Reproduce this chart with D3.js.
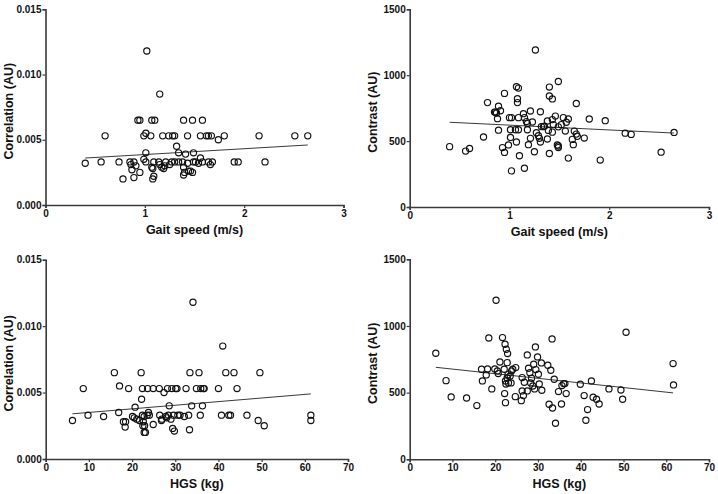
<!DOCTYPE html>
<html><head><meta charset="utf-8">
<script src="https://cdn.jsdelivr.net/npm/d3@7"></script>
<style>
html,body{margin:0;padding:0;background:#fff;}
svg{display:block;font-family:"Liberation Sans",Arial,sans-serif;}
</style></head>
<body><svg id="c" width="718" height="494"></svg>
<script>
// Gait speed (m/s) vs Correlation (AU)
const gaitCorr = [[0.40,0.0032],[0.56,0.0033],[0.60,0.0053],[0.74,0.0033],[0.78,0.0020],[0.85,0.0033],[0.86,0.0031],[0.87,0.0027],[0.89,0.0033],[0.89,0.0021],[0.91,0.0030],[0.93,0.0065],[0.95,0.0065],[0.95,0.0025],[0.99,0.0053],[1.01,0.0055],[1.01,0.0040],[0.99,0.0035],[1.01,0.0033],[1.02,0.0118],[1.06,0.0053],[1.07,0.0065],[1.10,0.0065],[1.07,0.0029],[1.08,0.0028],[1.08,0.0020],[1.09,0.0022],[1.09,0.0033],[1.15,0.0085],[1.14,0.0033],[1.15,0.0031],[1.18,0.0053],[1.17,0.0029],[1.19,0.0028],[1.20,0.0030],[1.21,0.0033],[1.24,0.0053],[1.25,0.0031],[1.27,0.0033],[1.28,0.0053],[1.30,0.0053],[1.30,0.0033],[1.32,0.0045],[1.34,0.0033],[1.34,0.0040],[1.38,0.0033],[1.39,0.0065],[1.39,0.0029],[1.39,0.0023],[1.40,0.0025],[1.41,0.0039],[1.43,0.0053],[1.43,0.0032],[1.44,0.0026],[1.46,0.0026],[1.48,0.0065],[1.48,0.0025],[1.49,0.0040],[1.49,0.0033],[1.51,0.0033],[1.54,0.0032],[1.56,0.0036],[1.56,0.0053],[1.58,0.0065],[1.58,0.0033],[1.62,0.0053],[1.64,0.0053],[1.67,0.0053],[1.64,0.0033],[1.66,0.0031],[1.68,0.0033],[1.74,0.0050],[1.80,0.0053],[1.90,0.0033],[1.94,0.0033],[2.15,0.0053],[2.21,0.0033],[2.51,0.0053],[2.64,0.0053]];
// Gait speed (m/s) vs Contrast (AU)
const gaitContrast = [[0.40,458],[0.56,424],[0.60,444],[0.74,531],[0.78,792],[0.85,720],[0.86,720],[0.87,713],[0.89,765],[0.88,670],[0.89,583],[0.91,730],[0.93,451],[0.95,862],[0.95,414],[0.99,471],[1.00,678],[1.02,678],[1.01,528],[1.01,586],[1.02,274],[1.06,586],[1.07,493],[1.07,912],[1.09,902],[1.08,822],[1.08,792],[1.09,678],[1.10,389],[1.09,586],[1.14,708],[1.15,678],[1.15,294],[1.17,648],[1.18,633],[1.18,586],[1.19,473],[1.21,728],[1.21,521],[1.23,645],[1.25,419],[1.26,1191],[1.27,563],[1.29,541],[1.30,521],[1.31,493],[1.31,723],[1.32,610],[1.34,610],[1.35,613],[1.38,653],[1.38,516],[1.39,581],[1.40,406],[1.40,910],[1.40,842],[1.43,663],[1.43,820],[1.43,568],[1.44,625],[1.46,690],[1.48,471],[1.49,952],[1.49,451],[1.49,463],[1.49,608],[1.52,625],[1.54,678],[1.56,576],[1.57,643],[1.59,371],[1.59,668],[1.63,513],[1.64,473],[1.65,576],[1.67,785],[1.67,553],[1.68,536],[1.75,523],[1.80,668],[1.91,356],[1.96,655],[2.16,560],[2.22,551],[2.52,416],[2.65,566]];
// HGS (kg) vs Correlation (AU)
const hgsCorr = [[6.2,0.0029],[8.7,0.0053],[9.8,0.0033],[13.4,0.0032],[15.9,0.0065],[16.9,0.0035],[17.1,0.0055],[18.0,0.0028],[18.5,0.0028],[18.4,0.0024],[19.2,0.0053],[20.1,0.0032],[20.5,0.0031],[20.7,0.0039],[21.1,0.0030],[21.7,0.0029],[22.1,0.0065],[22.2,0.0045],[22.4,0.0053],[22.4,0.0033],[22.5,0.0025],[22.6,0.0028],[22.8,0.0032],[22.8,0.0020],[23.1,0.0020],[22.9,0.0025],[23.5,0.0033],[23.6,0.0053],[23.8,0.0035],[24.0,0.0033],[24.9,0.0026],[24.9,0.0053],[26.3,0.0053],[26.4,0.0033],[26.8,0.0029],[26.9,0.0030],[27.4,0.0050],[27.8,0.0032],[28.0,0.0031],[28.2,0.0053],[28.4,0.0033],[28.6,0.0040],[29.0,0.0030],[29.2,0.0053],[29.4,0.0023],[29.6,0.0033],[29.8,0.0021],[30.1,0.0053],[30.4,0.0053],[30.6,0.0033],[31.1,0.0033],[32.1,0.0032],[32.5,0.0053],[33.1,0.0033],[33.3,0.0022],[33.4,0.0065],[33.8,0.0040],[34.1,0.0118],[34.9,0.0053],[35.5,0.0065],[35.8,0.0033],[35.9,0.0053],[36.3,0.0040],[36.5,0.0053],[36.7,0.0053],[40.0,0.0053],[40.7,0.0033],[41.0,0.0085],[41.7,0.0065],[42.4,0.0033],[42.8,0.0033],[43.6,0.0065],[44.3,0.0053],[46.6,0.0033],[49.2,0.0029],[49.6,0.0065],[50.6,0.0025],[61.4,0.0033],[61.4,0.0029]];
// HGS (kg) vs Contrast (AU)
const hgsContrast = [[6.1,795],[8.5,590],[9.7,468],[13.3,460],[15.7,403],[16.8,675],[17.0,588],[17.9,633],[18.2,678],[18.5,910],[19.2,528],[19.9,678],[20.2,1193],[20.5,663],[20.7,643],[21.1,730],[21.7,913],[22.1,675],[22.2,493],[22.3,863],[22.4,588],[22.4,425],[22.5,565],[22.6,825],[22.8,725],[22.9,793],[22.8,610],[23.0,635],[23.1,573],[23.5,625],[23.7,573],[23.8,663],[24.1,675],[24.8,688],[24.7,470],[26.1,440],[26.3,513],[26.3,613],[26.6,478],[26.8,578],[27.5,783],[27.5,513],[27.8,683],[28.1,650],[28.3,573],[28.5,608],[28.8,550],[29.0,713],[29.2,528],[29.4,843],[29.5,673],[29.9,768],[30.1,638],[30.3,565],[30.8,723],[30.9,518],[32.3,705],[32.6,413],[33.0,668],[33.3,903],[33.4,385],[33.8,600],[34.1,270],[34.8,508],[35.5,415],[35.6,553],[36.0,568],[36.3,568],[36.6,493],[39.9,563],[40.8,478],[41.2,293],[41.6,373],[42.5,588],[42.9,465],[43.7,450],[44.3,415],[46.6,528],[49.4,520],[49.8,450],[50.6,953],[61.6,718],[61.7,558]];

// Regression lines: [x0, y0, x1, y1] (data units)
const gaitCorrFit = [0.40, 0.0036, 2.64, 0.0046];
const gaitContrastFit = [0.40, 643, 2.65, 561];
const hgsCorrFit = [6.2, 0.0034, 61.4, 0.0049];
const hgsContrastFit = [6.1, 690, 61.6, 498];

const gaitTicks = [0, 1, 2, 3];
const hgsTicks = [0, 10, 20, 30, 40, 50, 60, 70];
const corrTicks = [0, 0.005, 0.010, 0.015];
const contrastTicks = [0, 500, 1000, 1500];

const svg = d3.select("#c");

function panel(o) {
  const x = d3.scaleLinear().domain(o.xd).range(o.xr);
  const y = d3.scaleLinear().domain(o.yd).range(o.yr);
  const g = svg.append("g");
  const ax = g.append("g").attr("transform", `translate(0,${o.yr[0]})`)
    .call(d3.axisBottom(x).tickValues(o.xt).tickFormat(d3.format("d")).tickSize(3).tickPadding(2));
  const ay = g.append("g").attr("transform", `translate(${o.xr[0]},0)`)
    .call(d3.axisLeft(y).tickValues(o.yt).tickFormat(o.yf).tickSize(3).tickPadding(1));
  [ax, ay].forEach(a => {
    a.select(".domain").attr("stroke", "#3a3a3a").attr("stroke-width", 1.6);
    a.selectAll(".tick line").attr("stroke", "#3a3a3a").attr("stroke-width", 1.2);
    a.selectAll("text").attr("fill", "#111").attr("font-size", "10px").attr("font-weight", "bold")
      .attr("font-family", "Liberation Sans, Arial, sans-serif");
  });
  // fit line
  g.append("line")
    .attr("x1", x(o.fit[0])).attr("y1", y(o.fit[1]))
    .attr("x2", x(o.fit[2])).attr("y2", y(o.fit[3]))
    .attr("stroke", "#222").attr("stroke-width", 0.9);
  // points
  g.selectAll("circle").data(o.data).join("circle")
    .attr("cx", d => x(d[0])).attr("cy", d => y(d[1])).attr("r", 3.1)
    .attr("fill", "none").attr("stroke", "#111").attr("stroke-width", 1.15);
  // titles
  g.append("text").attr("x", (o.xr[0] + o.xr[1]) / 2).attr("y", o.yr[0] + 29)
    .attr("text-anchor", "middle").attr("font-size", "12.5px").attr("font-weight", "bold")
    .attr("fill", "#111").text(o.xl);
  g.append("text")
    .attr("transform", `translate(${o.xr[0] - 33},${(o.yr[0] + o.yr[1]) / 2 + 4}) rotate(-90)`)
    .attr("text-anchor", "middle").attr("font-size", "12.5px").attr("font-weight", "bold")
    .attr("fill", "#111").text(o.yl);
}

const f3 = d3.format(".3f");
panel({data: gaitCorr, fit: gaitCorrFit, xd: [0, 3], yd: [0, 0.015], xr: [45.5, 343.5], yr: [205, 9.3],
  xt: gaitTicks, yt: corrTicks, yf: f3, xl: "Gait speed (m/s)", yl: "Correlation (AU)"});
panel({data: gaitContrast, fit: gaitContrastFit, xd: [0, 3], yd: [0, 1500], xr: [409.7, 709], yr: [207, 9.3],
  xt: gaitTicks, yt: contrastTicks, yf: d3.format("d"), xl: "Gait speed (m/s)", yl: "Contrast (AU)"});
panel({data: hgsCorr, fit: hgsCorrFit, xd: [0, 70], yd: [0, 0.015], xr: [45.7, 348], yr: [459, 259.7],
  xt: hgsTicks, yt: corrTicks, yf: f3, xl: "HGS (kg)", yl: "Correlation (AU)"});
panel({data: hgsContrast, fit: hgsContrastFit, xd: [0, 70], yd: [0, 1500], xr: [409.7, 709], yr: [459.3, 259.3],
  xt: hgsTicks, yt: contrastTicks, yf: d3.format("d"), xl: "HGS (kg)", yl: "Contrast (AU)"});
</script></body></html>
